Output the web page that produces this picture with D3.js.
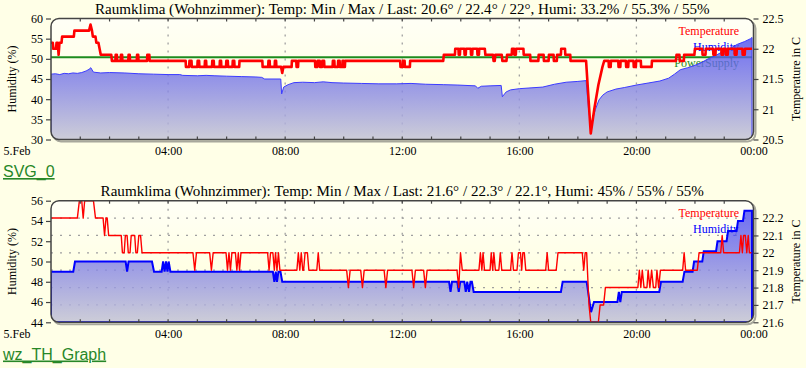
<!DOCTYPE html>
<html>
<head>
<meta charset="utf-8">
<script src="https://cdn.jsdelivr.net/npm/d3@7"></script>
<style>
  body { margin: 0; background: #ffffe7; }
  svg text { font-family: "Liberation Serif", "Times New Roman", serif; }
  .link { font-family: "Liberation Sans", Arial, sans-serif; font-size: 16px; fill: #278727; text-decoration: underline; }
</style>
</head>
<body>
<svg id="chart" width="806" height="368"></svg>
<script>
// x axis (hours of the day)
const hourTicks = [0, 4, 8, 12, 16, 20, 24];
const hourLabels = ["5.Feb", "04:00", "08:00", "12:00", "16:00", "20:00", "00:00"];

// ---- top plot: SVG_0 ----
const topTitle = "Raumklima (Wohnzimmer): Temp: Min / Max / Last: 20.6° / 22.4° / 22°, Humi: 33.2% / 55.3% / 55%";
const topHumTicks = [30, 35, 40, 45, 50, 55, 60];
const topTempTicks = [20.5, 21, 21.5, 22, 22.5];

// [hour, humidity %]
const topHumidity = [
  [0.00,46.2],[0.15,46.3],[0.3,46.1],[0.45,46.4],[0.6,46.3],[0.75,46.5],[0.9,46.4],[1.05,46.6],
  [1.2,47.0],[1.3,47.4],[1.36,47.8],[1.45,46.7],[1.7,46.5],[2.0,46.6],[2.5,46.5],[3.0,46.3],
  [3.5,46.2],[4.0,46.1],[4.4,46.1],[4.5,45.9],[5.0,45.8],[5.3,45.9],[5.6,45.8],[6.0,45.7],
  [6.5,45.6],[7.0,45.5],[7.2,45.4],[7.3,45.0],[7.85,45.0],[7.88,41.3],[7.95,43.0],[8.1,43.6],
  [8.3,44.1],[8.6,44.2],[9.0,44.1],[9.3,44.3],[9.6,44.1],[10.0,44.0],[10.6,43.9],[11.2,43.8],
  [11.8,43.8],[12.3,43.9],[12.8,43.7],[13.4,43.6],[13.9,43.5],[14.5,43.3],[14.58,42.7],[14.7,43.2],
  [15.0,43.3],[15.38,43.4],[15.42,40.6],[15.55,41.8],[15.7,42.3],[16.0,42.6],[16.4,42.8],[16.8,43.0],
  [17.2,43.7],[17.6,44.2],[18.0,44.4],[18.28,44.6],[18.36,38.0],[18.44,33.2],[18.52,35.5],[18.6,37.5],
  [18.72,39.8],[18.85,41.0],[19.0,41.8],[19.3,42.5],[19.6,42.9],[20.0,43.5],[20.4,44.0],[20.8,44.5],
  [21.1,45.2],[21.3,46.2],[21.5,47.3],[21.75,47.8],[22.0,48.4],[22.2,49.0],[22.45,50.0],[22.7,50.8],
  [22.95,51.8],[23.2,52.6],[23.45,53.6],[23.7,54.3],[23.9,55.0],[23.95,55.3]
];

// [hour, temperature C]
const topTemperature = [
  [0.00,22.1],[0.06,22.1],[0.08,22.0],[0.17,22.0],[0.19,22.1],[0.23,22.1],[0.26,21.9],[0.29,22.1],
  [0.36,22.1],[0.38,22.2],[0.78,22.2],[0.80,22.3],[1.30,22.3],[1.35,22.4],[1.40,22.3],[1.43,22.2],
  [1.52,22.2],[1.55,22.1],[1.62,22.1],[1.66,22.0],[1.70,21.9],[2.06,21.9],[2.08,21.8],[2.20,21.8],
  [2.21,21.9],[2.25,21.9],[2.26,21.8],[2.38,21.8],[2.39,21.9],[2.43,21.9],[2.44,21.8],[2.64,21.8],
  [2.65,21.9],[2.69,21.9],[2.70,21.8],[2.93,21.8],[2.94,21.9],[2.98,21.9],[2.99,21.8],[3.28,21.8],
  [3.29,21.9],[3.36,21.9],[3.37,21.8],[4.60,21.8],[4.61,21.7],[4.72,21.7],[4.73,21.8],[4.80,21.8],
  [4.81,21.7],[5.00,21.7],[5.01,21.8],[5.06,21.8],[5.07,21.7],[5.25,21.7],[5.26,21.8],[5.30,21.8],
  [5.31,21.7],[5.50,21.7],[5.51,21.8],[5.56,21.8],[5.57,21.7],[5.76,21.7],[5.77,21.8],[5.81,21.8],
  [5.82,21.7],[5.98,21.7],[5.99,21.8],[6.04,21.8],[6.05,21.7],[6.20,21.7],[6.21,21.8],[6.26,21.8],
  [6.27,21.7],[6.43,21.7],[6.44,21.8],[7.22,21.8],[7.23,21.7],[7.42,21.7],[7.43,21.8],[7.47,21.8],
  [7.48,21.7],[7.64,21.7],[7.65,21.8],[7.69,21.8],[7.70,21.7],[7.86,21.7],[7.90,21.6],[7.94,21.7],
  [8.22,21.7],[8.23,21.8],[8.38,21.8],[8.39,21.7],[8.44,21.7],[8.45,21.8],[9.02,21.8],[9.03,21.7],
  [9.10,21.7],[9.11,21.8],[9.18,21.8],[9.19,21.7],[9.26,21.7],[9.27,21.8],[9.33,21.8],[9.34,21.7],
  [9.62,21.7],[9.63,21.8],[9.68,21.8],[9.69,21.7],[9.80,21.7],[9.81,21.8],[9.86,21.8],[9.87,21.7],
  [9.95,21.7],[9.96,21.8],[10.0,21.8],[10.01,21.7],[10.04,21.7],[10.05,21.8],[11.93,21.8],[11.94,21.7],
  [12.02,21.7],[12.03,21.8],[12.08,21.8],[12.09,21.7],[12.26,21.7],[12.27,21.8],[13.40,21.8],[13.42,21.9],
  [13.80,21.9],[13.81,22.0],[13.92,22.0],[13.93,21.9],[13.97,21.9],[13.98,22.0],[14.12,22.0],[14.13,21.9],
  [14.17,21.9],[14.18,22.0],[14.34,22.0],[14.35,21.9],[14.39,21.9],[14.40,22.0],[14.56,22.0],[14.57,21.9],
  [14.62,21.9],[14.63,22.0],[14.82,22.0],[14.84,21.9],[15.10,21.9],[15.12,21.8],[15.16,21.8],[15.18,21.9],
  [15.40,21.9],[15.42,21.8],[15.56,21.8],[15.58,21.9],[15.74,21.9],[15.75,22.0],[15.82,22.0],[15.83,21.9],
  [15.88,21.9],[15.89,22.0],[16.14,22.0],[16.15,21.9],[16.37,21.9],[16.38,21.8],[16.65,21.8],[16.66,21.9],
  [16.83,21.9],[16.84,21.8],[17.0,21.8],[17.01,21.9],[17.17,21.9],[17.18,21.8],[17.28,21.8],[17.29,21.9],
  [17.42,21.9],[17.43,22.0],[17.56,22.0],[17.57,21.9],[17.74,21.9],[17.75,21.8],[18.28,21.8],[18.44,20.6],
  [18.56,21.0],[18.70,21.4],[18.84,21.7],[18.90,21.8],[19.05,21.8],[19.06,21.7],[19.12,21.7],[19.13,21.8],
  [19.38,21.8],[19.39,21.7],[19.45,21.7],[19.46,21.8],[19.64,21.8],[19.65,21.7],[19.72,21.7],[19.73,21.8],
  [19.90,21.8],[19.91,21.7],[19.98,21.7],[19.99,21.8],[20.15,21.8],[20.16,21.7],[20.52,21.7],[20.53,21.8],
  [21.35,21.8],[21.37,21.9],[21.47,21.9],[21.48,21.8],[21.62,21.8],[21.63,21.9],[21.98,21.9],[22.0,22.0],
  [22.25,22.0],[22.26,21.9],[22.36,21.9],[22.37,22.0],[22.62,22.0],[22.63,21.9],[22.70,21.9],[22.71,22.0],
  [22.90,22.0],[22.91,21.9],[22.96,21.9],[22.97,22.0],[23.05,22.0],[23.06,21.9],[23.12,21.9],[23.13,22.0],
  [23.35,22.0],[23.36,21.9],[23.42,21.9],[23.43,22.0],[23.62,22.0],[23.63,21.9],[23.70,21.9],[23.71,22.0],
  [23.95,22.0]
];

// [hour, value on the humidity axis]
const topPowerSupply = [[0,50.4],[6,50.4],[12,50.4],[18,50.4],[23.95,50.4]];

// ---- bottom plot: wz_TH_Graph ----
const bottomTitle = "Raumklima (Wohnzimmer): Temp: Min / Max / Last: 21.6° / 22.3° / 22.1°, Humi: 45% / 55% / 55%";
const bottomHumTicks = [44, 46, 48, 50, 52, 54, 56];
const bottomTempTicks = [21.6, 21.7, 21.8, 21.9, 22, 22.1, 22.2];

const bottomHumidity = [
  [0,49],[0.76,49],[0.82,50],[2.55,50],[2.6,49],[2.65,50],[3.45,50],[3.52,49],[3.78,49],[3.83,50],
  [3.88,49],[3.93,50],[3.98,49],[4.02,50],[4.08,49],[7.58,49],[7.63,48],[7.68,49],[7.72,48],[7.77,49],
  [7.84,49],[7.9,48],[13.6,48],[13.65,47],[13.7,48],[13.88,48],[13.93,47],[13.98,48],[14.12,48],[14.17,47],
  [14.22,48],[14.28,47],[14.33,48],[14.38,48],[14.44,47],[17.42,47],[17.48,48],[18.3,48],[18.45,45],[18.55,46],
  [19.35,46],[19.4,47],[19.45,46],[19.5,47],[20.78,47],[20.84,48],[21.58,48],[21.64,49],[21.92,49],[21.97,50],
  [22.25,50],[22.3,51],[22.72,51],[22.77,52],[23.08,52],[23.13,53],[23.42,53],[23.47,54],[23.64,54],[23.69,55],
  [23.95,55]
];

const bottomTemperature = [
  [0.00,22.2],[0.90,22.2],[0.97,22.3],[1.05,22.3],[1.10,22.2],[1.15,22.3],[1.45,22.3],[1.52,22.2],
  [1.78,22.2],[1.83,22.1],[1.88,22.2],[1.92,22.2],[1.97,22.1],[2.40,22.1],[2.44,22.0],[2.50,22.0],
  [2.54,22.1],[2.60,22.1],[2.64,22.0],[2.70,22.0],[2.74,22.1],[2.86,22.1],[2.90,22.0],[2.95,22.0],
  [3.0,22.1],[3.06,22.1],[3.11,22.0],[4.85,22.0],[4.91,21.9],[4.97,22.0],[5.42,22.0],[5.48,21.9],
  [5.54,22.0],[5.98,22.0],[6.03,21.9],[6.08,22.0],[6.13,21.9],[6.18,22.0],[6.30,22.0],[6.35,21.9],
  [6.40,22.0],[6.44,21.9],[6.49,22.0],[7.40,22.0],[7.45,21.9],[7.50,22.0],[7.58,22.0],[7.63,21.9],
  [7.67,22.0],[7.72,21.9],[7.77,22.0],[7.82,21.9],[8.40,21.9],[8.45,22.0],[8.50,21.9],[8.55,22.0],
  [8.60,21.9],[8.63,21.9],[8.68,22.0],[8.76,22.0],[8.81,21.9],[9.08,21.9],[9.13,22.0],[9.18,21.9],
  [10.10,21.9],[10.16,21.8],[10.22,21.9],[10.58,21.9],[10.64,21.8],[10.70,21.9],[11.38,21.9],[11.44,21.8],
  [11.50,21.9],[12.33,21.9],[12.39,21.8],[12.45,21.9],[12.73,21.9],[12.79,21.8],[12.85,21.9],[13.87,21.9],
  [13.93,21.8],[13.99,22.0],[14.05,21.9],[14.62,21.9],[14.67,22.0],[14.72,21.9],[14.76,22.0],[14.81,21.9],
  [15.00,21.9],[15.04,22.0],[15.09,21.9],[15.13,22.0],[15.18,21.9],[15.30,21.9],[15.35,22.0],[15.40,21.9],
  [15.70,21.9],[15.75,22.0],[15.80,21.9],[15.92,21.9],[15.97,22.0],[16.04,22.0],[16.08,21.9],[16.12,22.0],
  [16.17,22.0],[16.22,21.9],[16.90,21.9],[16.95,22.0],[17.00,21.9],[17.26,21.9],[17.32,22.0],[18.15,22.0],
  [18.20,21.9],[18.25,22.0],[18.30,22.0],[18.38,21.7],[18.44,21.6],[18.70,21.6],[18.76,21.7],[18.88,21.7],
  [18.94,21.8],[20.05,21.8],[20.10,21.9],[20.15,21.8],[20.20,21.9],[20.26,21.8],[20.36,21.8],[20.40,21.9],
  [20.46,21.8],[20.52,21.9],[20.58,21.8],[20.66,21.8],[20.70,21.9],[20.76,21.8],[20.82,21.9],[21.58,21.9],
  [21.63,22.0],[21.68,21.9],[22.08,21.9],[22.14,22.0],[22.88,22.0],[22.93,22.1],[22.98,22.0],[23.52,22.0],
  [23.57,22.1],[23.62,22.0],[23.66,22.1],[23.72,22.1],[23.77,22.0],[23.82,22.1],[23.86,22.0],[23.93,22.0]
];

const svg = d3.select("#chart");
const defs = svg.append("defs");

// plot background gradient
let bg = defs.append("linearGradient").attr("id", "bgGrad")
  .attr("x1", 0).attr("y1", 0).attr("x2", 0).attr("y2", 1);
bg.append("stop").attr("offset", "0%").attr("stop-color", "#fffff6");
bg.append("stop").attr("offset", "100%").attr("stop-color", "#ffffd6");

// humidity fill gradient
let hg = defs.append("linearGradient").attr("id", "humGrad")
  .attr("x1", 0).attr("y1", 0).attr("x2", 0).attr("y2", 1);
hg.append("stop").attr("offset", "0%").attr("stop-color", "#4646f2").attr("stop-opacity", 0.78);
hg.append("stop").attr("offset", "100%").attr("stop-color", "#c2c2d8").attr("stop-opacity", 0.82);

const x = d3.scaleLinear().domain([0, 24]).range([51, 753.5]);
const serif = '"Liberation Serif", "Times New Roman", serif';

function drawPanel(p) {
  let g = svg.append("g");
  let yL = d3.scaleLinear().domain(p.humDomain).range([p.bottom, p.top]);
  let yR = d3.scaleLinear().domain(p.tempDomain).range([p.bottom, p.top]);
  let w = x(24) - x(0), h = p.bottom - p.top;

  defs.append("clipPath").attr("id", "clip" + p.id)
    .append("rect").attr("x", x(0)).attr("y", p.top).attr("width", w).attr("height", h).attr("rx", 8);

  // shadow + background
  g.append("rect").attr("x", x(0) + 2).attr("y", p.top + 2).attr("width", w).attr("height", h)
    .attr("rx", 8).attr("fill", "none").attr("stroke", "#a8a89c").attr("stroke-width", 2);
  g.append("rect").attr("x", x(0)).attr("y", p.top).attr("width", w).attr("height", h)
    .attr("rx", 8).attr("fill", "url(#bgGrad)");

  // vertical grid every 4 hours
  g.selectAll(".vgrid").data(hourTicks.slice(1, -1)).enter().append("line")
    .attr("x1", d => x(d)).attr("x2", d => x(d))
    .attr("y1", p.top).attr("y2", p.bottom)
    .attr("stroke", "#a0a0a0").attr("stroke-width", 1.3).attr("stroke-dasharray", "2,6");

  // horizontal grid on the temperature axis
  if (p.grid) {
    g.selectAll(".hgrid").data(p.tempTicks.slice(1)).enter().append("line")
      .attr("x1", x(0)).attr("x2", x(24))
      .attr("y1", d => yR(d)).attr("y2", d => yR(d))
      .attr("stroke", "#a0a0a0").attr("stroke-width", 1.3).attr("stroke-dasharray", "2,7");
  }

  // legend
  p.legend.forEach((l, i) => {
    g.append("text").attr("x", 739).attr("y", p.top + 16 + i * 16)
      .attr("text-anchor", "end").attr("font-size", 12).attr("fill", l[1]).text(l[0]);
  });

  let plot = g.append("g").attr("clip-path", "url(#clip" + p.id + ")");

  if (p.power) {
    plot.append("path").datum(p.power)
      .attr("d", d3.line().x(d => x(d[0])).y(d => yL(d[1])))
      .attr("fill", "none").attr("stroke", "#1e8c1e").attr("stroke-width", 2);
  }

  plot.append("path").datum(p.humidity)
    .attr("d", d3.area().x(d => x(d[0])).y0(p.bottom).y1(d => yL(d[1])))
    .attr("fill", "url(#humGrad)").attr("stroke", p.humStroke[0]).attr("stroke-width", p.humStroke[1]);

  plot.append("path").datum(p.temperature)
    .attr("d", d3.line().x(d => x(d[0])).y(d => yR(d[1])))
    .attr("fill", "none").attr("stroke", "#ff0000").attr("stroke-width", p.tempWidth)
    .attr("stroke-linejoin", "round");

  // hourly ticks on top and bottom edge
  let hours = d3.range(1, 24);
  g.selectAll(".ttick").data(hours).enter().append("line")
    .attr("x1", d => x(d)).attr("x2", d => x(d)).attr("y1", p.top).attr("y2", p.top + 3)
    .attr("stroke", "#444").attr("stroke-width", 1.2);
  g.selectAll(".btick").data(hours).enter().append("line")
    .attr("x1", d => x(d)).attr("x2", d => x(d)).attr("y1", p.bottom - 3).attr("y2", p.bottom)
    .attr("stroke", "#444").attr("stroke-width", 1.2);

  // border
  g.append("rect").attr("x", x(0)).attr("y", p.top).attr("width", w).attr("height", h)
    .attr("rx", 8).attr("fill", "none").attr("stroke", "#444").attr("stroke-width", 1.5);

  // axes
  let left = g.append("g").attr("transform", "translate(" + x(0) + ",0)")
    .call(d3.axisLeft(yL).tickValues(p.humTicks).tickFormat(d => d).tickSize(5).tickPadding(3));
  let right = g.append("g").attr("transform", "translate(" + x(24) + ",0)")
    .call(d3.axisRight(yR).tickValues(p.tempTicks).tickFormat(d => d).tickSize(5).tickPadding(4));
  let bottom = g.append("g").attr("transform", "translate(0," + p.bottom + ")")
    .call(d3.axisBottom(x).tickValues(hourTicks).tickFormat((d, i) => hourLabels[i]).tickSize(0).tickPadding(7));
  [left, right, bottom].forEach(a => {
    a.attr("font-family", serif).attr("font-size", 12);
    a.select(".domain").remove();
    a.selectAll("line").attr("stroke", "#444").attr("stroke-width", 1.2);
    a.selectAll("text").attr("fill", "#000");
  });
  bottom.selectAll(".tick").filter(d => d === 0).select("text")
    .attr("text-anchor", "start").attr("x", 3 - x(0));

  // axis titles
  let cy = (p.top + p.bottom) / 2;
  g.append("text").attr("transform", "translate(15.5," + cy + ") rotate(-90)")
    .attr("text-anchor", "middle").attr("font-size", 12).text("Humidity (%)");
  g.append("text").attr("transform", "translate(800," + cy + ") rotate(-90)")
    .attr("text-anchor", "middle").attr("font-size", 12).text("Temperature in C");

  // title
  g.append("text").attr("x", (x(0) + x(24)) / 2).attr("y", p.top - 5)
    .attr("text-anchor", "middle").attr("font-size", 15.1).text(p.title);

  // link below the plot
  g.append("text").attr("class", "link").attr("x", 3).attr("y", p.linkY).text(p.link);
}

drawPanel({
  id: 1, top: 18.5, bottom: 139.5,
  title: topTitle,
  humDomain: [30, 60], humTicks: topHumTicks,
  tempDomain: [20.5, 22.5], tempTicks: topTempTicks,
  humidity: topHumidity, temperature: topTemperature, power: topPowerSupply,
  humStroke: ["#3c3cff", 1], tempWidth: 2.6,
  grid: false,
  legend: [["Temperature", "#ff0000"], ["Humidity", "#0000ff"], ["PowerSupply", "#1e8c1e"]],
  link: "SVG_0", linkY: 177
});

drawPanel({
  id: 2, top: 200.7, bottom: 322.3,
  title: bottomTitle,
  humDomain: [44, 56], humTicks: bottomHumTicks,
  tempDomain: [21.6, 22.3], tempTicks: bottomTempTicks,
  humidity: bottomHumidity, temperature: bottomTemperature, power: null,
  humStroke: ["#0000ff", 2], tempWidth: 1.4,
  grid: true,
  legend: [["Temperature", "#ff0000"], ["Humidity", "#0000ff"]],
  link: "wz_TH_Graph", linkY: 359.5
});
</script>
</body>
</html>
